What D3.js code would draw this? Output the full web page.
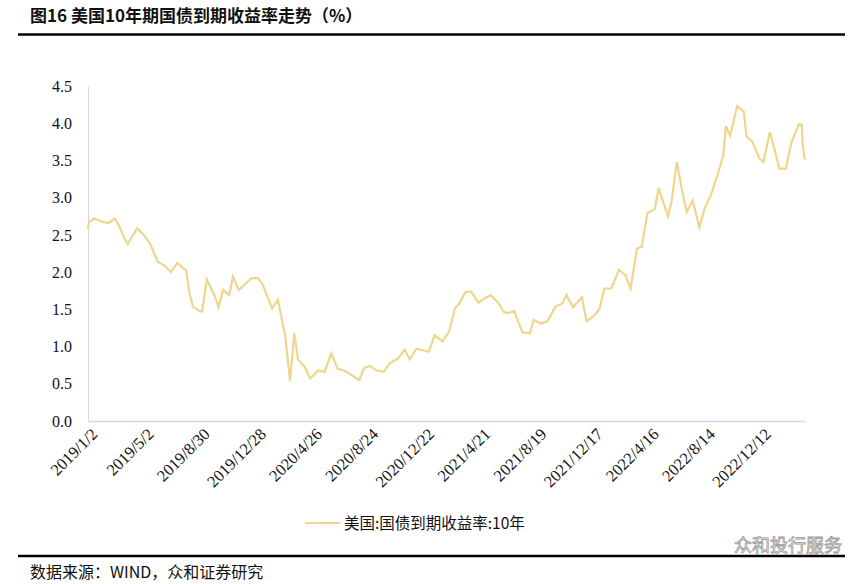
<!DOCTYPE html>
<html><head><meta charset="utf-8">
<script src="https://cdn.jsdelivr.net/npm/d3@7"></script>
<style>body{margin:0;background:#fff}</style></head>
<body><svg id="c" width="865" height="584"></svg>
<script>
const title = "图16 美国10年期国债到期收益率走势（%）";
const seriesName = "美国:国债到期收益率:10年";
const source = "数据来源：WIND，众和证券研究";
const yTicks = [0,0.5,1,1.5,2,2.5,3,3.5,4,4.5];
const xTickLabels = ["2019/1/2","2019/5/2","2019/8/30","2019/12/28","2020/4/26","2020/8/24","2020/12/22","2021/4/21","2021/8/19","2021/12/17","2022/4/16","2022/8/14","2022/12/12"];
const dates = ["2019-01-02","2019-01-04","2019-01-15","2019-01-31","2019-02-15","2019-02-28","2019-03-08","2019-03-22","2019-03-28","2019-04-17","2019-04-30","2019-05-15","2019-05-31","2019-06-14","2019-06-28","2019-07-12","2019-07-31","2019-08-07","2019-08-15","2019-08-28","2019-09-03","2019-09-13","2019-09-30","2019-10-08","2019-10-18","2019-10-31","2019-11-08","2019-11-20","2019-12-03","2019-12-18","2019-12-31","2020-01-10","2020-01-31","2020-02-12","2020-02-28","2020-03-09","2020-03-18","2020-03-26","2020-04-09","2020-04-21","2020-05-08","2020-05-22","2020-06-05","2020-06-19","2020-07-02","2020-07-15","2020-08-04","2020-08-14","2020-08-27","2020-09-10","2020-09-25","2020-10-09","2020-10-26","2020-11-09","2020-11-20","2020-12-04","2020-12-18","2020-12-31","2021-01-12","2021-01-29","2021-02-12","2021-02-25","2021-03-05","2021-03-19","2021-03-31","2021-04-16","2021-04-30","2021-05-12","2021-05-28","2021-06-10","2021-06-18","2021-07-01","2021-07-19","2021-08-04","2021-08-12","2021-08-27","2021-09-10","2021-09-28","2021-10-12","2021-10-21","2021-11-04","2021-11-23","2021-12-03","2021-12-20","2021-12-31","2022-01-10","2022-01-25","2022-02-10","2022-02-24","2022-03-07","2022-03-21","2022-03-31","2022-04-12","2022-04-28","2022-05-06","2022-05-26","2022-06-03","2022-06-14","2022-06-24","2022-07-05","2022-07-18","2022-08-01","2022-08-12","2022-08-26","2022-09-08","2022-09-21","2022-09-27","2022-10-06","2022-10-21","2022-11-04","2022-11-10","2022-11-22","2022-12-07","2022-12-16","2022-12-30","2023-01-10","2023-01-19","2023-02-02","2023-02-14","2023-03-02","2023-03-08","2023-03-10","2023-03-13","2023-03-15"];
const yields = [2.58,2.67,2.72,2.68,2.66,2.72,2.64,2.44,2.38,2.59,2.51,2.38,2.14,2.09,2.0,2.12,2.02,1.71,1.53,1.48,1.47,1.90,1.68,1.53,1.76,1.69,1.94,1.76,1.83,1.92,1.92,1.84,1.51,1.63,1.13,0.54,1.18,0.83,0.73,0.57,0.68,0.66,0.91,0.70,0.68,0.63,0.55,0.71,0.74,0.68,0.66,0.78,0.84,0.96,0.83,0.97,0.95,0.93,1.15,1.07,1.20,1.52,1.57,1.73,1.74,1.59,1.65,1.69,1.59,1.46,1.45,1.48,1.19,1.18,1.36,1.31,1.34,1.54,1.58,1.69,1.53,1.66,1.34,1.42,1.51,1.78,1.78,2.03,1.96,1.78,2.32,2.34,2.79,2.85,3.13,2.75,2.96,3.48,3.13,2.81,2.96,2.60,2.85,3.04,3.29,3.56,3.96,3.83,4.23,4.16,3.82,3.76,3.53,3.48,3.88,3.62,3.39,3.39,3.74,3.99,3.98,3.73,3.57,3.51];
const data = dates.map((d,i)=>({d:new Date(d+"T00:00:00"),v:yields[i]}));

const svg = d3.select("#c");
const cjk = "'Noto Sans CJK SC', sans-serif";
const serif = "'Liberation Serif', serif";
svg.append("text").attr("x",30).attr("y",22).attr("font-family",cjk).attr("font-weight","bold").attr("font-size",17).attr("fill","#111").text(title);
svg.append("line").attr("x1",18).attr("x2",845).attr("y1",34.5).attr("y2",34.5).attr("stroke","#000").attr("stroke-width",2.5);
svg.append("line").attr("x1",18).attr("x2",845).attr("y1",556).attr("y2",556).attr("stroke","#000").attr("stroke-width",2.5);
svg.append("text").attr("x",30).attr("y",578).attr("font-family",cjk).attr("font-size",16).attr("fill","#111").text(source);

const x = d3.scaleTime().domain([new Date("2019-01-02T00:00:00"),new Date("2023-03-15T00:00:00")]).range([88,805]);
const y = d3.scaleLinear().domain([0,4.5]).range([421,86]);

const gy = svg.append("g").attr("transform","translate(88,0)").call(d3.axisLeft(y).tickValues(yTicks).tickFormat(d3.format(".1f")).tickSize(0).tickPadding(16));
gy.select(".domain").attr("stroke","#d9d9d9");
gy.selectAll("text").attr("font-family",serif).attr("font-size",16).attr("fill","#111");

const tickDates = xTickLabels.map(s=>{const p=s.split("/");return new Date(+p[0],+p[1]-1,+p[2]);});
const gx = svg.append("g").attr("transform","translate(0,421)").call(d3.axisBottom(x).tickValues(tickDates).tickFormat((d,i)=>xTickLabels[i]).tickSize(0));
gx.select(".domain").attr("stroke","#d9d9d9").attr("stroke-width",1.5);
gx.selectAll("text").attr("font-family",serif).attr("font-size",16.5).attr("fill","#111")
  .attr("text-anchor","end").attr("dy","0").attr("transform","translate(8,12) rotate(-45)");

svg.append("path").datum(data).attr("fill","none").attr("stroke","#f0d58c").attr("stroke-width",2.2)
  .attr("d",d3.line().x(d=>x(d.d)).y(d=>y(d.v)));

svg.append("line").attr("x1",305).attr("x2",340).attr("y1",523).attr("y2",523).attr("stroke","#f0d58c").attr("stroke-width",2);
svg.append("text").attr("x",344).attr("y",529).attr("font-family",cjk).attr("font-size",15.5).attr("fill","#111").text(seriesName);
svg.append("text").attr("x",842).attr("y",552).attr("text-anchor","end").attr("font-family",cjk).attr("font-size",18).attr("fill","#fff").attr("stroke","#999").attr("stroke-width",0.8).text("众和投行服务");
</script></body></html>
